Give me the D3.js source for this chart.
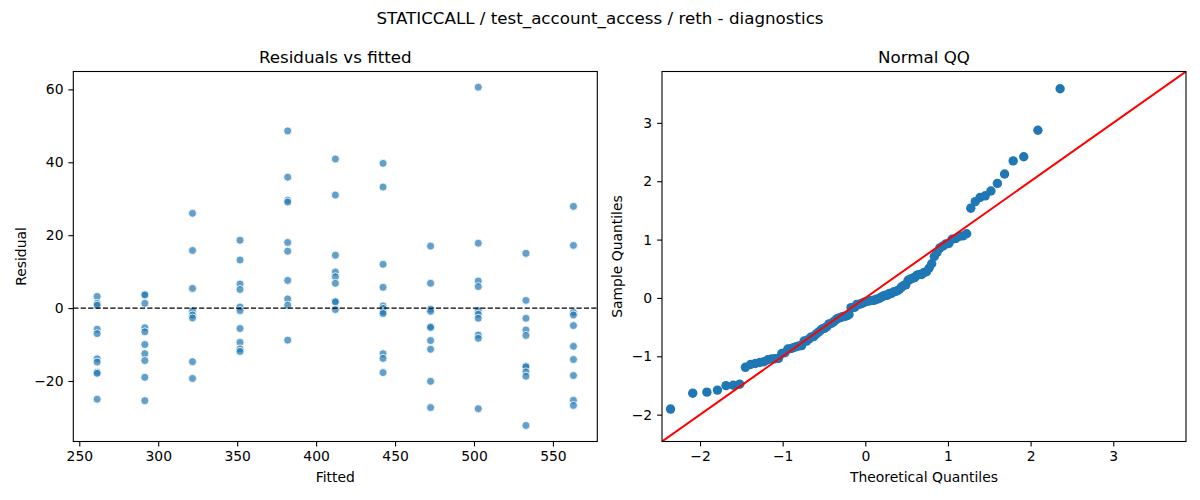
<!DOCTYPE html>
<html>
<head>
<meta charset="utf-8">
<title>STATICCALL / test_account_access / reth - diagnostics</title>
<script src="https://d3js.org/d3.v7.min.js"></script>
<style>
    body { margin: 0; background: #fff; }
    svg { display: block; font-family: "DejaVu Sans", sans-serif; }
    .tick text { font-size: 13.9px; fill: #000; font-family: "DejaVu Sans", sans-serif; }
    .tick line { stroke: #000; stroke-width: 1.1; }
    .frame { fill: none; stroke: #000; stroke-width: 1.1; }
    .ax-title { font-size: 16.7px; text-anchor: middle; }
    .ax-label { font-size: 13.9px; text-anchor: middle; }
</style>
</head>
<body>
<svg id="chart" width="1200" height="500"></svg>
<script>
// fitted value of each group (x of the residual plot)
const fittedLevels = [261.3, 291.5, 321.7, 351.8, 382.0, 412.2, 442.4, 472.5, 502.7, 532.9, 563.0];

// residuals of each group, same order as fittedLevels
const residualsByLevel = [
    [3.2, 1.3, 0.8, -5.8, -7.0, -13.9, -14.8, -17.6, -17.9, -25.0],
    [3.8, 3.6, 1.3, -5.4, -6.5, -10.0, -12.5, -14.4, -19.0, -25.4],
    [26.0, 15.8, 5.4, -0.8, -1.9, -2.7, -14.7, -19.3],
    [18.6, 13.2, 6.6, 5.1, 0.3, -0.7, -5.6, -9.4, -11.2, -11.9],
    [48.6, 35.9, 29.6, 29.1, 18.0, 15.6, 7.6, 2.5, 0.8, -8.8],
    [40.9, 31.0, 14.5, 9.9, 8.6, 6.8, 1.9, 1.7, -0.4],
    [39.7, 33.2, 12.0, 5.7, 0.6, -0.1, -1.0, -1.5, -12.5, -13.8, -17.7],
    [17.0, 6.8, -0.3, -0.9, -5.1, -5.3, -8.9, -11.3, -20.1, -27.3],
    [60.6, 17.8, 7.4, 5.9, -0.7, -1.7, -2.8, -7.4, -8.3, -27.6],
    [15.0, 2.1, -2.8, -6.0, -7.5, -15.9, -16.1, -17.5, -18.7, -32.2],
    [27.9, 17.2, -1.2, -1.9, -4.8, -10.5, -14.1, -18.5, -25.3, -26.7]
];

// normal QQ points
const qqTheoretical = [
    -2.357, -2.088, -1.917, -1.789, -1.685, -1.598, -1.520, -1.451, -1.388, -1.330,
    -1.276, -1.226, -1.179, -1.134, -1.091, -1.050, -1.011, -0.973, -0.937, -0.902,
    -0.868, -0.835, -0.803, -0.771, -0.741, -0.711, -0.682, -0.653, -0.625, -0.597,
    -0.570, -0.543, -0.517, -0.490, -0.465, -0.439, -0.414, -0.389, -0.364, -0.340,
    -0.316, -0.292, -0.268, -0.244, -0.220, -0.197, -0.173, -0.150, -0.127, -0.104,
    -0.081, -0.058, -0.035, -0.012,
    0.012, 0.035, 0.058, 0.081, 0.104, 0.127, 0.150, 0.173, 0.197, 0.220,
    0.244, 0.268, 0.292, 0.316, 0.340, 0.364, 0.389, 0.414, 0.439, 0.465,
    0.490, 0.517, 0.543, 0.570, 0.597, 0.625, 0.653, 0.682, 0.711, 0.741,
    0.771, 0.803, 0.835, 0.868, 0.902, 0.937, 0.973, 1.011, 1.050, 1.091,
    1.134, 1.179, 1.226, 1.276, 1.330, 1.388, 1.451, 1.520, 1.598, 1.685,
    1.789, 1.917, 2.088, 2.357
];
const qqSample = [
    -1.904, -1.632, -1.614, -1.579, -1.502, -1.496, -1.478, -1.189, -1.141, -1.124,
    -1.106, -1.094, -1.059, -1.047, -1.041, -1.035, -0.952, -0.940, -0.875, -0.869,
    -0.852, -0.834, -0.822, -0.816, -0.739, -0.739, -0.704, -0.668, -0.662, -0.621,
    -0.591, -0.556, -0.526, -0.520, -0.491, -0.444, -0.438, -0.414, -0.384, -0.355,
    -0.343, -0.331, -0.319, -0.313, -0.302, -0.284, -0.166, -0.166, -0.160, -0.112,
    -0.112, -0.101, -0.089, -0.071, -0.059, -0.053, -0.047, -0.041, -0.041, -0.024,
    -0.018, -0.006, 0.018, 0.035, 0.047, 0.047, 0.077, 0.077, 0.101, 0.112,
    0.124, 0.148, 0.189, 0.213, 0.225, 0.302, 0.319, 0.337, 0.349, 0.390,
    0.402, 0.402, 0.438, 0.449, 0.509, 0.585, 0.710, 0.781, 0.857, 0.887,
    0.923, 0.934, 1.005, 1.017, 1.053, 1.064, 1.100, 1.538, 1.650, 1.721,
    1.750, 1.833, 1.963, 2.123, 2.348, 2.419, 2.874, 3.584
];

const residTicks = [-20, 0, 20, 40, 60];
const fittedTicks = [250, 300, 350, 400, 450, 500, 550];
const qqTicks = [-2, -1, 0, 1, 2, 3];

const svg = d3.select('#chart');
const axTop = 71.5, axBottom = 441.5;
const left1 = 73.3, right1 = 597.3;
const left2 = 662, right2 = 1186;
const tickLen = 4.9, tickPad = 4.9;
const intFmt = d3.format('d');

// suptitle
svg.append('text')
    .attr('x', 600).attr('y', 24)
    .attr('text-anchor', 'middle')
    .style('font-size', '16.7px')
    .text('STATICCALL / test_account_access / reth - diagnostics');

function clipFor(id, x0, x1) {
    svg.append('clipPath').attr('id', id)
        .append('rect')
        .attr('x', x0).attr('y', axTop)
        .attr('width', x1 - x0).attr('height', axBottom - axTop);
}

function drawAxes(x, y, xTicks, yTicks) {
    svg.append('g')
        .attr('transform', `translate(0,${axBottom})`)
        .call(d3.axisBottom(x).tickValues(xTicks).tickFormat(intFmt)
            .tickSize(tickLen).tickSizeOuter(0).tickPadding(tickPad))
        .call(g => g.select('.domain').remove());
    svg.append('g')
        .attr('transform', `translate(${x.range()[0]},0)`)
        .call(d3.axisLeft(y).tickValues(yTicks).tickFormat(intFmt)
            .tickSize(tickLen).tickSizeOuter(0).tickPadding(tickPad))
        .call(g => g.select('.domain').remove());
    svg.append('rect')
        .attr('class', 'frame')
        .attr('x', x.range()[0]).attr('y', axTop)
        .attr('width', x.range()[1] - x.range()[0])
        .attr('height', axBottom - axTop);
}

// ---- Residuals vs fitted ----
const x1 = d3.scaleLinear().domain([246.2, 578.1]).range([left1, right1]);
const y1 = d3.scaleLinear().domain([-36.6, 64.9]).range([axBottom, axTop]);
clipFor('clip1', left1, right1);

const residPoints = [];
fittedLevels.forEach((f, i) => {
    residualsByLevel[i].forEach(r => residPoints.push({ fitted: f, resid: r }));
});

const g1 = svg.append('g').attr('clip-path', 'url(#clip1)');
g1.selectAll('circle')
    .data(residPoints)
    .join('circle')
    .attr('cx', d => x1(d.fitted))
    .attr('cy', d => y1(d.resid))
    .attr('r', 4)
    .attr('fill', '#1f77b4')
    .attr('fill-opacity', 0.7)
    .attr('stroke', '#fff')
    .attr('stroke-width', 0.8);

g1.append('line')
    .attr('x1', left1).attr('x2', right1)
    .attr('y1', y1(0)).attr('y2', y1(0))
    .attr('stroke', '#000')
    .attr('stroke-width', 1.4)
    .attr('stroke-dasharray', '5.2,2.2');

drawAxes(x1, y1, fittedTicks, residTicks);

svg.append('text').attr('class', 'ax-title')
    .attr('x', (left1 + right1) / 2).attr('y', axTop - 8.5)
    .text('Residuals vs fitted');
svg.append('text').attr('class', 'ax-label')
    .attr('x', (left1 + right1) / 2).attr('y', 482)
    .text('Fitted');
svg.append('text').attr('class', 'ax-label')
    .attr('transform', `translate(26,${(axTop + axBottom) / 2}) rotate(-90)`)
    .text('Residual');

// ---- Normal QQ ----
const qqDomain = [-2.46, 3.88];
const x2 = d3.scaleLinear().domain(qqDomain).range([left2, right2]);
const y2 = d3.scaleLinear().domain(qqDomain).range([axBottom, axTop]);
clipFor('clip2', left2, right2);

const g2 = svg.append('g').attr('clip-path', 'url(#clip2)');
g2.selectAll('circle')
    .data(qqTheoretical.map((t, i) => ({ t, s: qqSample[i] })))
    .join('circle')
    .attr('cx', d => x2(d.t))
    .attr('cy', d => y2(d.s))
    .attr('r', 4.7)
    .attr('fill', '#1f77b4');

g2.append('line')
    .attr('x1', x2(qqDomain[0])).attr('y1', y2(qqDomain[0]))
    .attr('x2', x2(qqDomain[1])).attr('y2', y2(qqDomain[1]))
    .attr('stroke', '#ff0000')
    .attr('stroke-width', 2);

drawAxes(x2, y2, qqTicks, qqTicks);

svg.append('text').attr('class', 'ax-title')
    .attr('x', (left2 + right2) / 2).attr('y', axTop - 8.5)
    .text('Normal QQ');
svg.append('text').attr('class', 'ax-label')
    .attr('x', (left2 + right2) / 2).attr('y', 482)
    .text('Theoretical Quantiles');
svg.append('text').attr('class', 'ax-label')
    .attr('transform', `translate(622,${(axTop + axBottom) / 2}) rotate(-90)`)
    .text('Sample Quantiles');
</script>
</body>
</html>
